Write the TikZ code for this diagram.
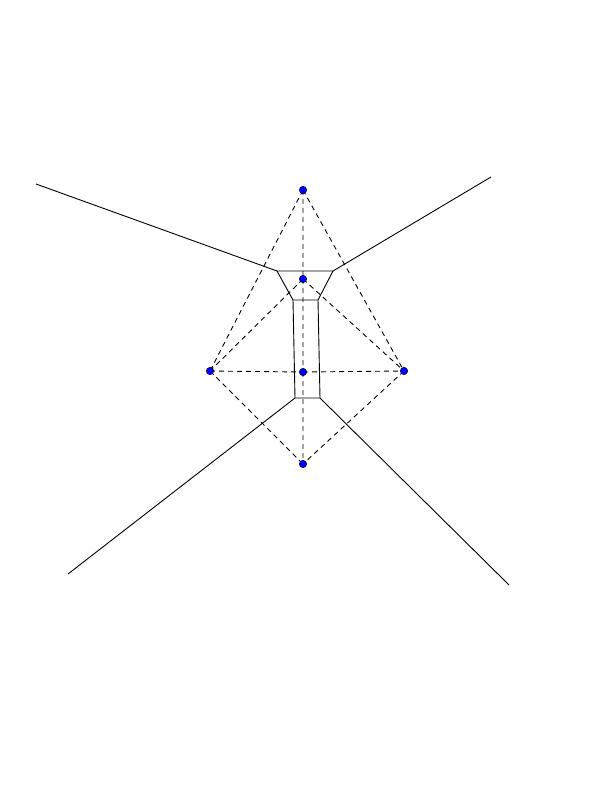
\documentclass[tikz,border=0pt]{standalone}
\begin{document}
\begin{tikzpicture}[x=1pt,y=-1pt,
  dl/.style={dashed,dash pattern=on 5pt off 4pt,line width=0.9pt},
  vl/.style={line width=0.9pt},
  site/.style={circle,fill=blue,draw=black,line width=0.4pt,inner sep=0pt,minimum size=7.5pt}]
\useasboundingbox (0,0) rectangle (595,791);
\coordinate (T) at (303,190);
\coordinate (I) at (303,279);
\coordinate (C) at (303,372);
\coordinate (L) at (210,371);
\coordinate (R) at (404,371);
\coordinate (B) at (303,464);
% Delaunay (dashed)
\draw[dl] (T) -- (L) (T) -- (R) (T) -- (I)
  (I) -- (L) (I) -- (R) (I) -- (C)
  (L) -- (C) (C) -- (R)
  (L) -- (B) (R) -- (B) (C) -- (B);
% Voronoi
\coordinate (v1) at (277,271);
\coordinate (v2) at (333,271);
\coordinate (v3) at (293,300);
\coordinate (v4) at (318,300);
\coordinate (v5) at (295,398);
\coordinate (v6) at (320,398);
\coordinate (e1) at (36,184);
\coordinate (e2) at (491,177);
\coordinate (e3) at (68,574);
\coordinate (e4) at (509,585);
\draw[vl] (e1) -- (v1) -- (v2) -- (e2);
\draw[vl] (v1) -- (v3) -- (v4) -- (v2);
\draw[vl] (v3) -- (v5) -- (v6) -- (v4);
\draw[vl] (e3) -- (v5) (e4) -- (v6);
\foreach \n in {T,I,C,L,R,B} \node[site] (s\n) at (\n) {};
\end{tikzpicture}
\end{document}
